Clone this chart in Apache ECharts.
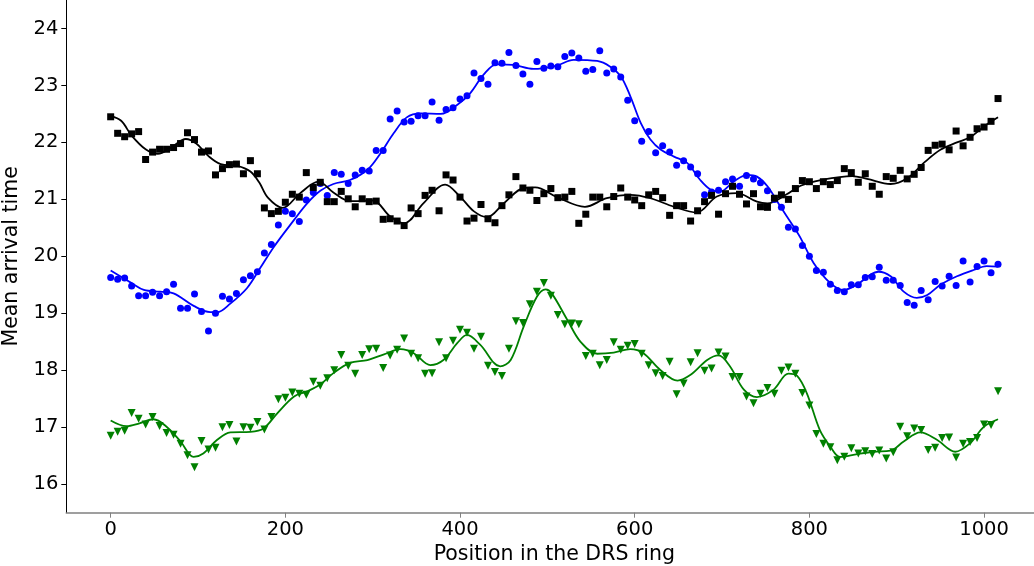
<!DOCTYPE html>
<html>
<head>
<meta charset="utf-8">
<script src="https://cdn.jsdelivr.net/npm/echarts@6/dist/echarts.min.js"></script>
<style>
  html, body { margin: 0; padding: 0; background: #fff; }
  #chart { width: 1034px; height: 566px; }
</style>
</head>
<body>
<div id="chart"></div>
<script>
// Channel positions in the DRS ring (one sample every 8 cells)
const positions = Array.from({ length: 128 }, (_, i) => i * 8);

const xTicks = [0, 200, 400, 600, 800, 1000];
const yTicks = [16, 17, 18, 19, 20, 21, 22, 23, 24];

// Mean arrival time per position, blue channel (circles)
const blueValues = [
  19.63, 19.60, 19.62, 19.48, 19.31, 19.31, 19.37, 19.31, 19.38, 19.51, 19.09, 19.09, 19.34, 19.03, 18.69, 19.00,
  19.30, 19.25, 19.35, 19.59, 19.66, 19.73, 20.06, 20.21, 20.55, 20.79, 20.75, 20.61, 20.99, 21.12, 21.28, 21.07,
  21.47, 21.44, 21.28, 21.43, 21.51, 21.50, 21.86, 21.86, 22.41, 22.55, 22.36, 22.37, 22.47, 22.47, 22.71, 22.39,
  22.58, 22.61, 22.76, 22.82, 23.22, 23.12, 23.02, 23.40, 23.39, 23.58, 23.35, 23.20, 23.02, 23.42, 23.30, 23.34,
  23.33, 23.51, 23.57, 23.48, 23.25, 23.28, 23.61, 23.22, 23.29, 23.15, 22.74, 22.38, 22.02, 22.19, 21.82, 21.94,
  21.83, 21.60, 21.68, 21.57, 21.45, 21.08, 21.13, 21.16, 21.31, 21.36, 21.23, 21.42, 21.36, 21.29, 21.15, 21.00,
  20.86, 20.51, 20.48, 20.19, 20.00, 19.75, 19.72, 19.51, 19.40, 19.38, 19.50, 19.50, 19.63, 19.64, 19.81, 19.58,
  19.58, 19.49, 19.19, 19.14, 19.40, 19.24, 19.56, 19.48, 19.65, 19.49, 19.92, 19.55, 19.82, 19.92, 19.71, 19.86
];

// Black channel (squares)
const blackValues = [
  22.45, 22.16, 22.10, 22.15, 22.19, 21.70, 21.83, 21.88, 21.88, 21.91, 21.98, 22.17, 22.05, 21.83, 21.85, 21.43,
  21.54, 21.61, 21.62, 21.45, 21.68, 21.45, 20.85, 20.75, 20.79, 20.95, 21.09, 21.04, 21.47, 21.21, 21.30, 20.96,
  20.96, 21.14, 21.01, 20.87, 21.01, 20.96, 20.97, 20.65, 20.66, 20.62, 20.54, 20.85, 20.75, 21.07, 21.16, 20.80,
  21.43, 21.34, 21.04, 20.62, 20.67, 20.91, 20.66, 20.59, 20.89, 21.08, 21.40, 21.20, 21.16, 20.98, 21.10, 21.19,
  21.03, 21.04, 21.14, 20.58, 20.74, 21.04, 21.04, 20.87, 21.05, 21.20, 21.04, 20.99, 20.89, 21.08, 21.14, 21.03,
  20.72, 20.89, 20.89, 20.62, 20.80, 20.96, 21.07, 20.74, 21.10, 21.23, 21.09, 20.92, 21.10, 20.87, 20.86, 21.02,
  21.08, 21.00, 21.19, 21.33, 21.31, 21.19, 21.31, 21.26, 21.33, 21.54, 21.47, 21.30, 21.45, 21.23, 21.09, 21.40,
  21.37, 21.51, 21.36, 21.44, 21.56, 21.86, 21.95, 21.97, 21.87, 22.20, 21.94, 22.09, 22.24, 22.27, 22.37, 22.77
];

// Green channel (down triangles)
const greenValues = [
  16.85, 16.92, 16.94, 17.25, 17.15, 17.05, 17.18, 17.02, 16.90, 16.87, 16.71, 16.51, 16.30, 16.76, 16.61, 16.64,
  17.00, 17.04, 16.75, 17.00, 16.99, 17.09, 16.96, 17.18, 17.49, 17.52, 17.61, 17.59, 17.57, 17.80, 17.73, 17.86,
  18.00, 18.27, 18.08, 17.94, 18.27, 18.37, 18.38, 18.04, 18.26, 18.36, 18.56, 18.29, 18.21, 17.94, 17.95, 18.49,
  18.21, 18.52, 18.71, 18.66, 18.38, 18.59, 18.08, 17.97, 17.90, 18.38, 18.86, 18.83, 19.16, 19.38, 19.53, 19.31,
  18.97, 18.81, 18.82, 18.81, 18.25, 18.29, 18.09, 18.18, 18.49, 18.36, 18.43, 18.46, 18.29, 18.09, 17.95, 17.90,
  18.15, 17.58, 17.77, 18.14, 18.30, 17.99, 18.03, 18.31, 18.24, 17.88, 17.88, 17.54, 17.42, 17.59, 17.69, 17.59,
  17.99, 18.05, 17.94, 17.60, 17.38, 16.88, 16.71, 16.65, 16.42, 16.48, 16.63, 16.54, 16.58, 16.53, 16.59, 16.45,
  16.56, 17.01, 16.84, 16.98, 16.95, 16.60, 16.64, 16.81, 16.82, 16.47, 16.71, 16.74, 16.81, 17.05, 17.04, 17.63
];

// Smoothed trend of each channel: [position, time] knots
const blueTrend = [
  [0, 19.75], [24, 19.53], [38, 19.41], [57, 19.38], [72, 19.35], [95, 19.13], [114, 19.02], [122, 19.02],
  [137, 19.17], [156, 19.44], [171, 19.79], [187, 20.17], [210, 20.64], [225, 20.93], [240, 21.15], [255, 21.27],
  [274, 21.34], [294, 21.52], [309, 21.81], [324, 22.16], [339, 22.44], [355, 22.51], [378, 22.50], [397, 22.66],
  [412, 22.87], [427, 23.19], [442, 23.37], [461, 23.36], [484, 23.29], [511, 23.35], [530, 23.45], [557, 23.43],
  [572, 23.33], [584, 23.16], [595, 22.81], [607, 22.34], [618, 22.05], [630, 21.87], [645, 21.75], [660, 21.64],
  [675, 21.34], [687, 21.17], [698, 21.14], [713, 21.31], [729, 21.43], [740, 21.40], [752, 21.23], [767, 20.87],
  [782, 20.52], [790, 20.32], [805, 19.88], [824, 19.53], [839, 19.41], [856, 19.52], [870, 19.68], [879, 19.73],
  [893, 19.65], [908, 19.38], [923, 19.27], [935, 19.32], [950, 19.50], [969, 19.65], [988, 19.76], [1003, 19.83],
  [1016, 19.82]
];

const blackTrend = [
  [0, 22.46], [12, 22.38], [24, 22.12], [40, 21.88], [54, 21.80], [70, 21.92], [86, 22.06], [98, 21.98],
  [112, 21.76], [126, 21.62], [145, 21.59], [160, 21.49], [170, 21.30], [180, 21.03], [197, 20.85], [217, 21.11],
  [238, 21.31], [255, 21.12], [274, 20.97], [300, 20.98], [320, 20.70], [336, 20.58], [358, 20.93], [383, 21.26],
  [400, 21.05], [416, 20.79], [431, 20.69], [450, 20.93], [473, 21.20], [486, 21.21], [511, 21.04], [543, 20.87],
  [568, 21.02], [595, 21.08], [618, 21.02], [645, 20.87], [671, 20.77], [694, 21.05], [717, 21.11], [740, 20.96],
  [752, 20.93], [774, 21.09], [790, 21.24], [813, 21.34], [849, 21.41], [866, 21.36], [893, 21.27], [912, 21.37],
  [931, 21.64], [950, 21.87], [969, 22.00], [984, 22.09], [1000, 22.28], [1016, 22.44]
];

const greenTrend = [
  [0, 17.12], [18, 17.02], [33, 17.07], [49, 17.14], [64, 17.01], [80, 16.75], [95, 16.48], [106, 16.54],
  [122, 16.78], [137, 16.91], [160, 16.92], [175, 16.98], [191, 17.25], [210, 17.54], [225, 17.63], [240, 17.75],
  [255, 17.95], [274, 18.13], [294, 18.18], [313, 18.28], [332, 18.37], [347, 18.30], [366, 18.09], [381, 18.18],
  [397, 18.48], [408, 18.62], [423, 18.45], [446, 18.07], [458, 18.18], [473, 18.77], [488, 19.29], [498, 19.42],
  [505, 19.35], [523, 18.88], [538, 18.50], [557, 18.29], [576, 18.31], [595, 18.37], [610, 18.30], [629, 18.01],
  [649, 17.82], [664, 17.92], [683, 18.18], [696, 18.26], [709, 18.07], [725, 17.66], [740, 17.53], [759, 17.66],
  [776, 17.94], [786, 17.90], [797, 17.60], [812, 16.95], [824, 16.66], [835, 16.48], [855, 16.53], [874, 16.57],
  [893, 16.59], [908, 16.75], [927, 16.91], [946, 16.78], [967, 16.57], [984, 16.72], [1000, 17.01], [1016, 17.14]
];

const pairs = (vals) => positions.map((p, i) => [p, vals[i]]);

const FONT = 'DejaVu Sans';
const chart = echarts.init(document.getElementById('chart'), null, { renderer: 'canvas' });

function trendSeries(data, color) {
  return {
    type: 'line', data, smooth: 0.35, showSymbol: false, symbol: 'none',
    lineStyle: { color, width: 1.8 }, z: 3, silent: true, animation: false
  };
}
function pointSeries(data, color, symbol, size, rotate) {
  return {
    type: 'scatter', data, symbol, symbolSize: size, symbolRotate: rotate || 0,
    itemStyle: { color, opacity: 1 }, z: 4, silent: true, animation: false
  };
}

chart.setOption({
  animation: false,
  backgroundColor: '#ffffff',
  grid: {
    left: 66.3, right: -8.4, top: 0, bottom: 53.3,
    containLabel: false, outerBoundsMode: 'none'
  },
  xAxis: {
    type: 'value', min: -50.8, max: 1066.8,
    name: 'Position in the DRS ring', nameLocation: 'middle', nameGap: 26,
    nameTextStyle: { fontFamily: FONT, fontSize: 20.5, color: '#000' },
    axisLine: { show: true, onZero: false, lineStyle: { color: '#808080', width: 1.6 } },
    axisTick: { show: true, inside: false, length: 5, customValues: xTicks, lineStyle: { color: '#808080', width: 1 } },
    axisLabel: {
      customValues: xTicks, fontFamily: FONT, fontSize: 19.5, color: '#000', margin: 7,
      formatter: (v) => String(v)
    },
    splitLine: { show: false }
  },
  yAxis: {
    type: 'value', min: 15.5, max: 24.5,
    name: 'Mean arrival time', nameLocation: 'middle', nameGap: 40, nameRotate: 90,
    nameTextStyle: { fontFamily: FONT, fontSize: 20.5, color: '#000' },
    axisLine: { show: true, onZero: false, lineStyle: { color: '#000', width: 1 } },
    axisTick: { show: true, inside: false, length: 5, customValues: yTicks, lineStyle: { color: '#000', width: 1 } },
    axisLabel: {
      customValues: yTicks, fontFamily: FONT, fontSize: 19.5, color: '#000', margin: 8,
      formatter: (v) => String(v)
    },
    splitLine: { show: false }
  },
  series: [
    pointSeries(pairs(blueValues), '#0000ff', 'circle', 7),
    trendSeries(blueTrend, '#0000ff'),
    pointSeries(pairs(blackValues), '#000000', 'rect', 7),
    trendSeries(blackTrend, '#000000'),
    pointSeries(pairs(greenValues), '#008000', 'triangle', 8, 180),
    trendSeries(greenTrend, '#008000')
  ]
});
</script>
</body>
</html>
